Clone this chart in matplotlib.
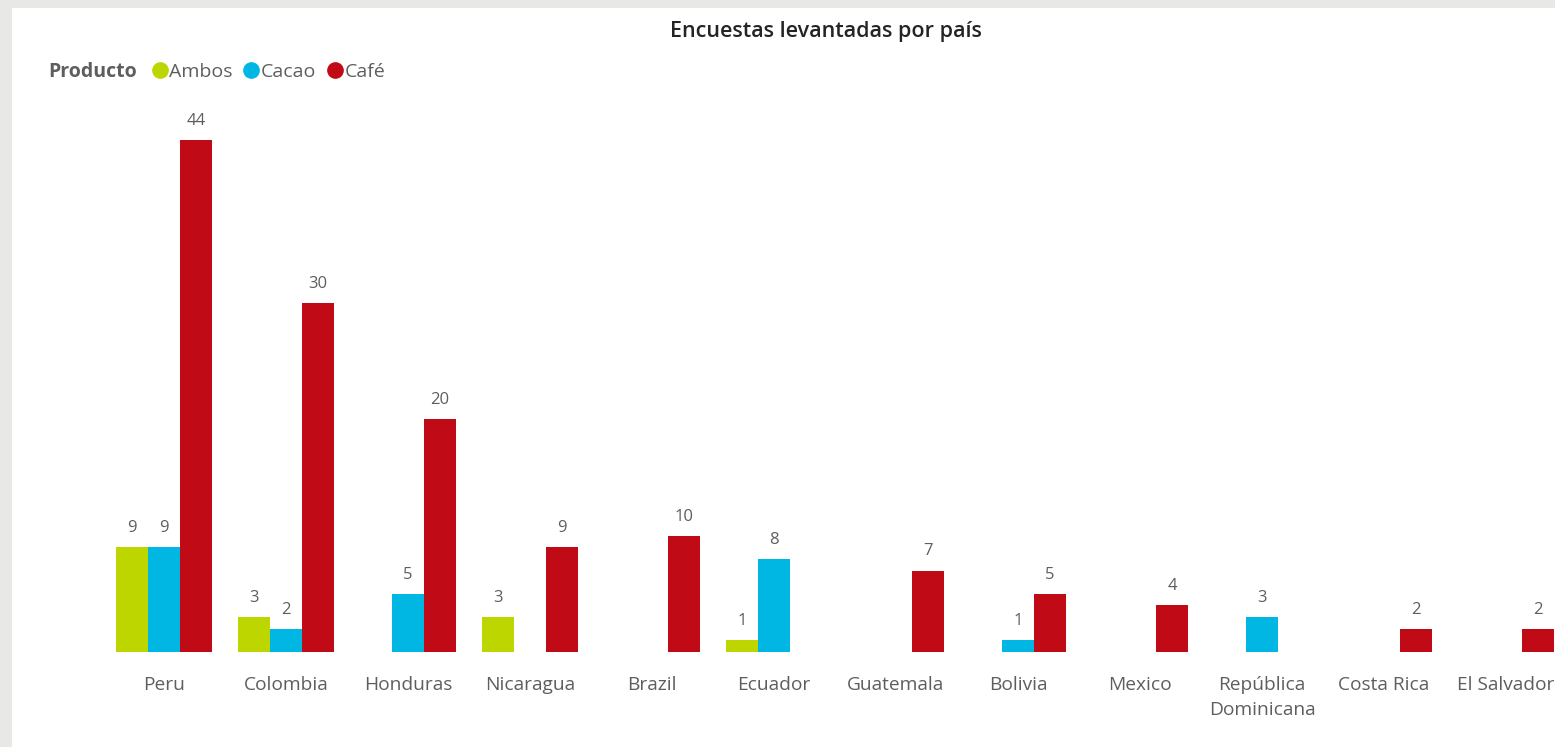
import numpy as np
import matplotlib.pyplot as plt
from matplotlib.lines import Line2D
from matplotlib.patches import Rectangle

plt.rcParams['font.family'] = ['Open Sans', 'DejaVu Sans']

# Data
paises = ["Peru", "Colombia", "Honduras", "Nicaragua", "Brazil", "Ecuador",
          "Guatemala", "Bolivia", "Mexico", "República\nDominicana", "Costa Rica", "El Salvador"]
ambos = [9, 3, 0, 3, 0, 1, 0, 0, 0, 0, 0, 0]
cacao = [9, 2, 5, 0, 0, 8, 0, 1, 0, 3, 0, 0]
cafe = [44, 30, 20, 9, 10, 0, 7, 5, 4, 0, 2, 2]

series = ["Ambos", "Cacao", "Café"]
colors = ["#BED600", "#00B7E3", "#C00A16"]
text_gray = "#605E5C"

W, H = 1555, 747
fig = plt.figure(figsize=(W / 100, H / 100), dpi=100)
fig.patch.set_facecolor("#E8E8E6")
fig.patches.append(Rectangle((12 / W, 0), 1, 1 - 8 / H, transform=fig.transFigure,
                             facecolor="white", edgecolor="none", zorder=-5))

# axes placement in pixels
left_px, right_px, top_px, base_px = 103, 1555, 110, 652
ax = fig.add_axes([left_px / W, (H - base_px) / H, (right_px - left_px) / W, (base_px - top_px) / H])
ax.set_facecolor("none")
ax.set_zorder(2)

x = np.arange(len(paises))
bw = 32 / 122
ymax = (base_px - top_px) / ((base_px - 140) / 44)
for k, (vals, c) in enumerate(zip([ambos, cacao, cafe], colors)):
    v = np.array(vals, dtype=float)
    mask = v > 0
    pos = x[mask] + (k - 1) * bw
    ax.bar(pos, v[mask], width=bw, color=c, linewidth=0)
    for px_, val in zip(pos, v[mask]):
        ax.annotate(f"{int(val)}", (px_, val), xytext=(0, 8), textcoords="offset points",
                    ha="center", va="bottom", fontsize=12, color=text_gray)

ax.set_xlim(-0.5, (1555 - 164) / 122)
ax.set_ylim(0, ymax)
ax.set_xticks(x)
ax.set_xticklabels(paises, fontsize=13.8, color=text_gray, linespacing=1.45, va="top")
ax.tick_params(axis="x", length=0, pad=17.5)
ax.set_yticks([])
for s in ax.spines.values():
    s.set_visible(False)

fig.text(826 / W, 1 - 31 / H, "Encuestas levantadas por país", ha="center", va="center",
         fontsize=15.5, color="#252423", fontweight="semibold")
fig.text(48 / W, 1 - 72 / H, "Producto", ha="left", va="center", fontsize=14,
         color=text_gray, fontweight="bold")

handles = [Line2D([], [], marker="o", linestyle="none", markersize=11, color=c) for c in colors]
leg = fig.legend(handles, series, loc="center left", bbox_to_anchor=(150 / W, 1 - 72 / H),
                 ncol=3, frameon=False, fontsize=14, handletextpad=0.0, columnspacing=0.45,
                 handlelength=1.0, borderpad=0, borderaxespad=0)
for t in leg.get_texts():
    t.set_color(text_gray)

plt.savefig("out.png", dpi=100)
